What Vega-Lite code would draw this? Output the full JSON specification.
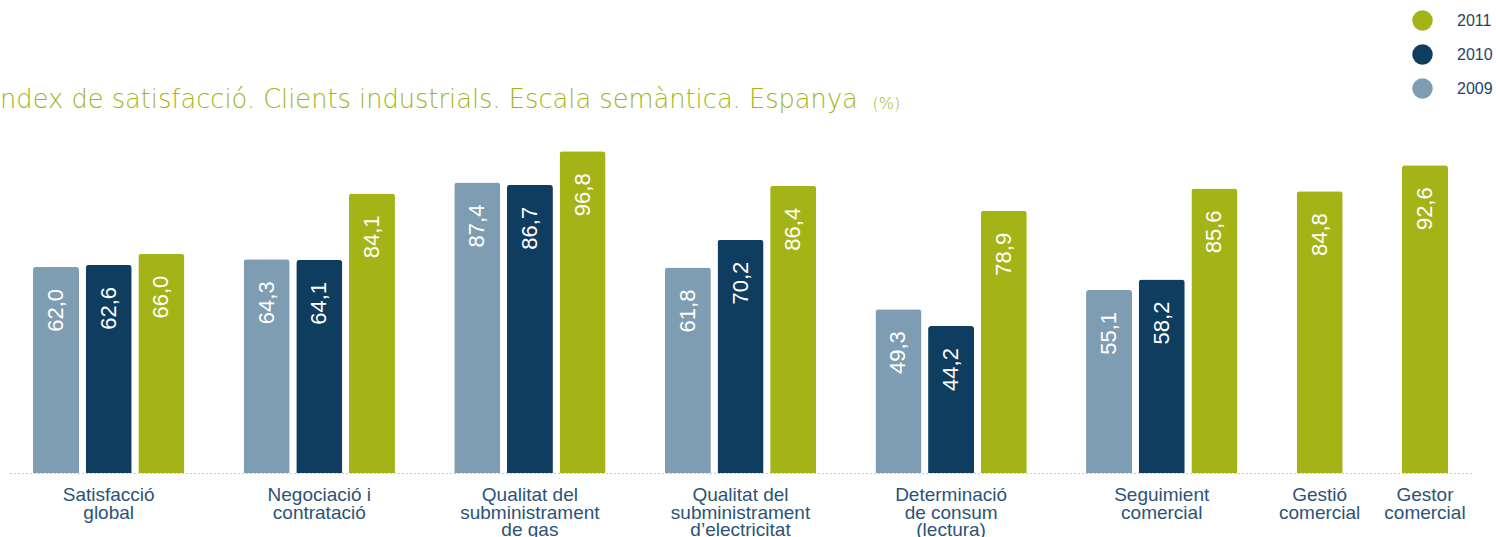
{
  "$schema": "https://vega.github.io/schema/vega-lite/v6.json",
  "width": 1461,
  "height": 329,
  "autosize": "none",
  "padding": {"left": 10, "top": 144, "right": 25, "bottom": 64},
  "background": "white",
  "config": {
    "view": {"stroke": null},
    "locale": {"number": {"decimal": ",", "thousands": ".", "grouping": [3], "currency": ["", " €"]}},
    "font": "Liberation Sans"
  },
  "data": {
    "values": [
      {"group": "g1", "category": "Satisfacció\nglobal", "year": "2009", "value": 62.0},
      {"group": "g1", "category": "Satisfacció\nglobal", "year": "2010", "value": 62.6},
      {"group": "g1", "category": "Satisfacció\nglobal", "year": "2011", "value": 66.0},
      {"group": "g2", "category": "Negociació i\ncontratació", "year": "2009", "value": 64.3},
      {"group": "g2", "category": "Negociació i\ncontratació", "year": "2010", "value": 64.1},
      {"group": "g2", "category": "Negociació i\ncontratació", "year": "2011", "value": 84.1},
      {"group": "g3", "category": "Qualitat del\nsubministrament\nde gas", "year": "2009", "value": 87.4},
      {"group": "g3", "category": "Qualitat del\nsubministrament\nde gas", "year": "2010", "value": 86.7},
      {"group": "g3", "category": "Qualitat del\nsubministrament\nde gas", "year": "2011", "value": 96.8},
      {"group": "g4", "category": "Qualitat del\nsubministrament\nd’electricitat", "year": "2009", "value": 61.8},
      {"group": "g4", "category": "Qualitat del\nsubministrament\nd’electricitat", "year": "2010", "value": 70.2},
      {"group": "g4", "category": "Qualitat del\nsubministrament\nd’electricitat", "year": "2011", "value": 86.4},
      {"group": "g5", "category": "Determinació\nde consum\n(lectura)", "year": "2009", "value": 49.3},
      {"group": "g5", "category": "Determinació\nde consum\n(lectura)", "year": "2010", "value": 44.2},
      {"group": "g5", "category": "Determinació\nde consum\n(lectura)", "year": "2011", "value": 78.9},
      {"group": "g6", "category": "Seguimient\ncomercial", "year": "2009", "value": 55.1},
      {"group": "g6", "category": "Seguimient\ncomercial", "year": "2010", "value": 58.2},
      {"group": "g6", "category": "Seguimient\ncomercial", "year": "2011", "value": 85.6},
      {"group": "g7", "category": "Gestió\ncomercial", "year": "2011", "value": 84.8},
      {"group": "g8", "category": "Gestor\ncomercial", "year": "2011", "value": 92.6}
    ]
  },
  "transform": [{"calculate": "datum.group + '-' + datum.year", "as": "key"}],
  "encoding": {
    "x": {
      "field": "key",
      "type": "nominal",
      "sort": null,
      "scale": {
        "domain": ["g1-2009", "g1-2010", "g1-2011", "s1", "g2-2009", "g2-2010", "g2-2011", "s2", "g3-2009", "g3-2010", "g3-2011", "s3", "g4-2009", "g4-2010", "g4-2011", "s4", "g5-2009", "g5-2010", "g5-2011", "s5", "g6-2009", "g6-2010", "g6-2011", "s6", "g7-2011", "s7", "g8-2011"],
        "paddingInner": 0.126,
        "paddingOuter": 0.437
      },
      "axis": {
        "title": "(%)",
        "titleX": 862,
        "titleY": -365,
        "titleAlign": "left",
        "titleBaseline": "alphabetic",
        "titleFont": "DejaVu Sans",
        "titleFontWeight": 300,
        "titleFontSize": 16,
        "titleColor": "#a3b419",
        "labels": false,
        "ticks": false,
        "grid": false,
        "domain": true,
        "domainColor": "#8a9aa6",
        "domainDash": [1, 3],
        "domainWidth": 1
      }
    },
    "y": {
      "field": "value",
      "type": "quantitative",
      "scale": {"domain": [0, 99], "nice": false},
      "axis": {
        "title": "Índex de satisfacció. Clients industrials. Escala semàntica. Espanya",
        "titleAngle": 0,
        "titleX": -18,
        "titleY": -37,
        "titleAlign": "left",
        "titleBaseline": "alphabetic",
        "titleFont": "DejaVu Sans",
        "titleFontWeight": 300,
        "titleFontSize": 25.7,
        "titleColor": "#a3b419",
        "labels": false,
        "ticks": false,
        "domain": false,
        "grid": false
      }
    }
  },
  "layer": [
    {
      "mark": {"type": "bar", "cornerRadiusTopLeft": 3, "cornerRadiusTopRight": 3},
      "encoding": {
        "color": {
          "field": "year",
          "type": "nominal",
          "scale": {"domain": ["2011", "2010", "2009"], "range": ["#a4b417", "#0f3d60", "#7f9db2"]},
          "legend": {
            "title": null,
            "orient": "none",
            "legendX": 1402,
            "legendY": -134,
            "symbolType": "circle",
            "symbolSize": 420,
            "symbolStrokeWidth": 0,
            "symbolOpacity": 1,
            "labelFontSize": 16,
            "labelColor": "#1f4566",
            "labelOffset": 24,
            "rowPadding": 13,
            "padding": 0
          }
        }
      }
    },
    {
      "mark": {"type": "text", "angle": 270, "align": "right", "baseline": "middle", "dx": -22, "fontSize": 22, "color": "white"},
      "encoding": {
        "text": {"field": "value", "type": "quantitative", "format": ".1f"}
      }
    },
    {
      "transform": [{"filter": "datum.year == '2010' || datum.group == 'g7' || datum.group == 'g8'"}],
      "mark": {"type": "text", "align": "center", "baseline": "top", "lineBreak": "\n", "lineHeight": 17.5, "dy": 13, "fontSize": 19, "color": "#2b5378"},
      "encoding": {
        "y": {"datum": 0},
        "text": {"field": "category", "type": "nominal"}
      }
    }
  ]
}
